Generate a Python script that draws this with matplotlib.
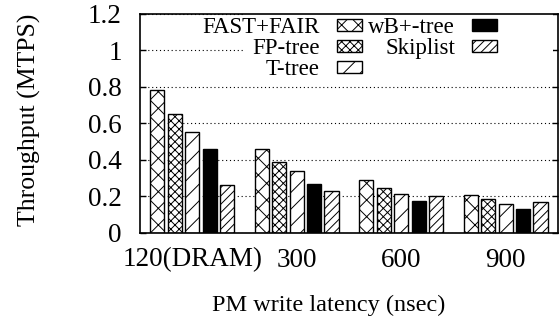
import numpy as np
import matplotlib
matplotlib.use("Agg")
import matplotlib.pyplot as plt
from matplotlib.patches import Rectangle

# Dados do gráfico
latencias = ['120(DRAM)', '300', '600', '900']
series = ['FAST+FAIR', 'FP-tree', 'T-tree', 'wB+-tree', 'Skiplist']
fast_fair = [0.78, 0.46, 0.29, 0.21]
fp_tree = [0.65, 0.39, 0.245, 0.185]
t_tree = [0.55, 0.34, 0.215, 0.16]
wb_tree = [0.46, 0.27, 0.175, 0.13]
skiplist = [0.26, 0.23, 0.20, 0.17]
valores = [fast_fair, fp_tree, t_tree, wb_tree, skiplist]
y_ticks = [0, 0.2, 0.4, 0.6, 0.8, 1, 1.2]
y_tick_labels = ['0', '0.2', '0.4', '0.6', '0.8', '1', '1.2']

# Estilos de cada série
hachuras = ['xx', 'xxxx', '//', '', '////']
cores = ['white', 'white', 'white', 'black', 'white']

plt.rcParams['font.family'] = ['Liberation Serif', 'DejaVu Serif']
plt.rcParams['hatch.linewidth'] = 0.7

fig = plt.figure(figsize=(5.59, 3.30), dpi=100)
ax = fig.add_axes([0.2504, 0.294, 0.7476, 0.665])

x = np.arange(len(latencias))
passo = 1 / 6
largura = 0.135
for i, (nome, vals) in enumerate(zip(series, valores)):
    pos = x + (i - 2) * passo
    ax.bar(pos, vals, largura, color=cores[i], edgecolor='black',
           hatch=hachuras[i], linewidth=1.0, zorder=2)

ax.set_xlim(-0.5, 3.5)
ax.set_ylim(0, 1.2)
ax.set_yticks(y_ticks)
ax.set_yticklabels(y_tick_labels)
ax.set_xticks(x)
ax.set_xticklabels(latencias)
ax.tick_params(axis='y', direction='in', length=4, width=1, right=True,
               labelsize=19.5, pad=13)
ax.tick_params(axis='x', length=0, labelsize=19.5, pad=10.5)
for s in ax.spines.values():
    s.set_linewidth(1.2)

ax.set_axisbelow(True)
ax.yaxis.grid(True, linestyle=(0, (1, 2.5)), color='black', linewidth=0.8)

ax.set_xlabel('PM write latency (nsec)', fontsize=17.5)
ax.xaxis.set_label_coords(0.452, -0.283)
ax.set_ylabel('Throughput (MTPS)', fontsize=18.5)
ax.yaxis.set_label_coords(-0.237, 0.515)

# Legenda manual (estilo gnuplot: texto alinhado à direita, amostra depois)
ax.add_patch(Rectangle((0.246, 0.697), 0.742, 0.30, transform=ax.transAxes,
                       facecolor='white', edgecolor='none', zorder=1))
col_texto = [0.4306, 0.7536]
col_amostra = [0.4706, 0.7935]
linhas_y = [0.9125, 0.8178, 0.7221]
for i, nome in enumerate(series):
    c, r = divmod(i, 3)
    ax.text(col_texto[c], linhas_y[r], nome, transform=ax.transAxes,
            ha='right', va='baseline', fontsize=16.5, zorder=3)
    ax.add_patch(Rectangle((col_amostra[c], linhas_y[r] + 0.009), 0.06, 0.0547,
                           transform=ax.transAxes, facecolor=cores[i],
                           edgecolor='black', hatch=hachuras[i],
                           linewidth=1.0, zorder=3))

fig.savefig('out.png', dpi=100)
